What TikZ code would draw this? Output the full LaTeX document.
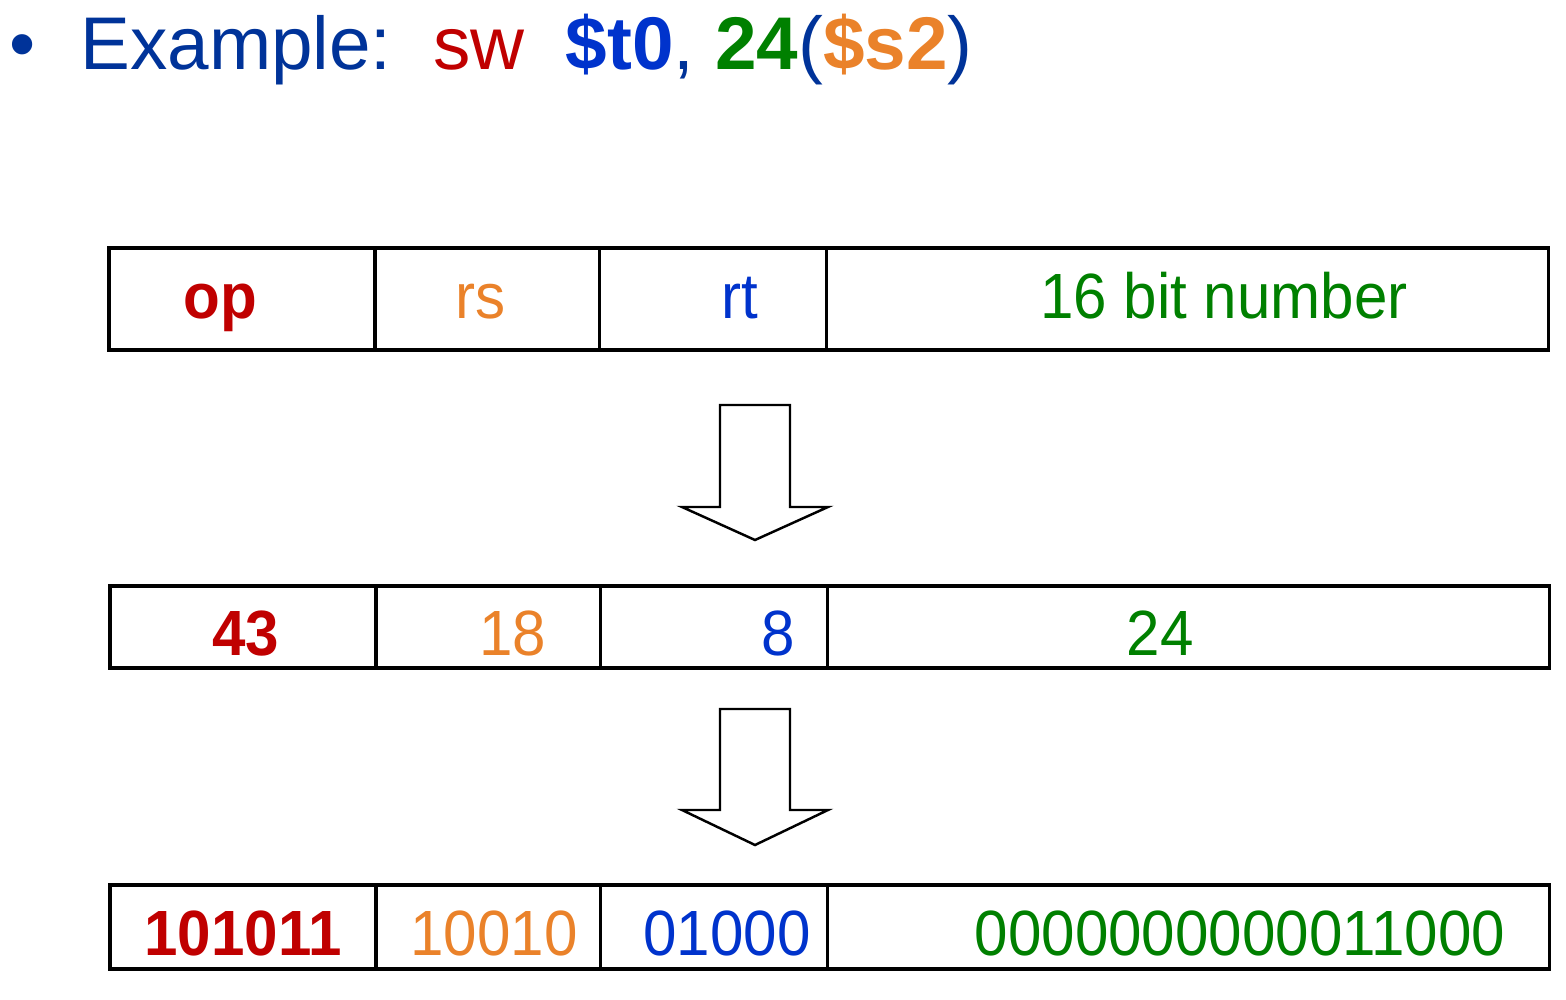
\documentclass[tikz,border=0pt]{standalone}
\usepackage{fontspec}
\setmainfont{Liberation Sans}
\newfontfamily\cellfont[FakeStretch=0.94]{Liberation Sans}
\usetikzlibrary{positioning}

\definecolor{navy}{RGB}{0,51,153}
\definecolor{opred}{RGB}{192,0,0}
\definecolor{rsorange}{RGB}{234,130,42}
\definecolor{rtblue}{RGB}{0,51,204}
\definecolor{immgreen}{RGB}{0,128,0}

\tikzset{
  cell/.style={draw, line width=1.8pt, outer sep=0pt, inner sep=0pt, anchor=north west},
  fieldtxt/.style={anchor=base, inner sep=0pt, font=\cellfont\fontsize{36.4pt}{40pt}\selectfont},
  blockarrow/.style={draw, line width=1.4pt, fill=white, line join=miter}
}

\begin{document}
\begin{tikzpicture}[x=0.02cm, y=-0.02cm]
    \useasboundingbox (0,0) rectangle (1566,1000);

    % Title line
    \node[anchor=base west, inner sep=0pt, text=navy, font=\fontsize{42.5pt}{48pt}\selectfont] (bullet) at (9,70) {•};
    \node[anchor=base west, inner sep=0pt, text=navy, font=\fontsize{42.5pt}{48pt}\selectfont] (title) at (80,70)
        {Example:\ \ \textcolor{opred}{sw}\ \ \textcolor{rtblue}{\bfseries \$t0},\ \textcolor{immgreen}{\bfseries 24}(\textcolor{rsorange}{\bfseries \$s2})};

    % Field names
    \node[cell, minimum width=5.32cm, minimum height=2.04cm] (op1) at (109,248) {};
    \node[cell, right=0pt of op1, minimum width=4.5cm, minimum height=2.04cm] (rs1) {};
    \node[cell, right=0pt of rs1, minimum width=4.54cm, minimum height=2.04cm] (rt1) {};
    \node[cell, right=0pt of rt1, minimum width=14.44cm, minimum height=2.04cm] (imm1) {};

    \node[fieldtxt, text=opred, font=\cellfont\bfseries\fontsize{36.4pt}{40pt}\selectfont] (optxt1) at (220,318) {op};
    \node[fieldtxt, text=rsorange] (rstxt1) at (481,318) {rs};
    \node[fieldtxt, text=rtblue] (rttxt1) at (740,318) {rt};
    \node[fieldtxt, text=immgreen] (immtxt1) at (1224,318) {16 bit number};

    % First arrow
    \draw[blockarrow] (720,405) -- (790,405) -- (790,507) -- (828,507) -- (755,540) -- (682,507) -- (720,507) -- cycle;

    % Decimal values
    \node[cell, minimum width=5.32cm, minimum height=1.64cm] (op2) at (110,586) {};
    \node[cell, right=0pt of op2, minimum width=4.5cm, minimum height=1.64cm] (rs2) {};
    \node[cell, right=0pt of rs2, minimum width=4.54cm, minimum height=1.64cm] (rt2) {};
    \node[cell, right=0pt of rt2, minimum width=14.44cm, minimum height=1.64cm] (imm2) {};

    \node[fieldtxt, text=opred, font=\cellfont\bfseries\fontsize{36.4pt}{40pt}\selectfont] (optxt2) at (246,655) {43};
    \node[fieldtxt, text=rsorange] (rstxt2) at (513,655) {18};
    \node[fieldtxt, text=rtblue] (rttxt2) at (778,655) {8};
    \node[fieldtxt, text=immgreen] (immtxt2) at (1160,655) {24};

    % Second arrow
    \draw[blockarrow] (720,709) -- (790,709) -- (790,810) -- (828,810) -- (755,845) -- (682,810) -- (720,810) -- cycle;

    % Binary values
    \node[cell, minimum width=5.32cm, minimum height=1.68cm] (op3) at (110,885) {};
    \node[cell, right=0pt of op3, minimum width=4.5cm, minimum height=1.68cm] (rs3) {};
    \node[cell, right=0pt of rs3, minimum width=4.54cm, minimum height=1.68cm] (rt3) {};
    \node[cell, right=0pt of rt3, minimum width=14.44cm, minimum height=1.68cm] (imm3) {};

    \node[fieldtxt, text=opred, font=\cellfont\bfseries\fontsize{36.4pt}{40pt}\selectfont] (optxt3) at (243,955) {101011};
    \node[fieldtxt, text=rsorange] (rstxt3) at (494,955) {10010};
    \node[fieldtxt, text=rtblue] (rttxt3) at (727,955) {01000};
    \node[fieldtxt, text=immgreen] (immtxt3) at (1240,955) {0000000000011000};
\end{tikzpicture}
\end{document}
